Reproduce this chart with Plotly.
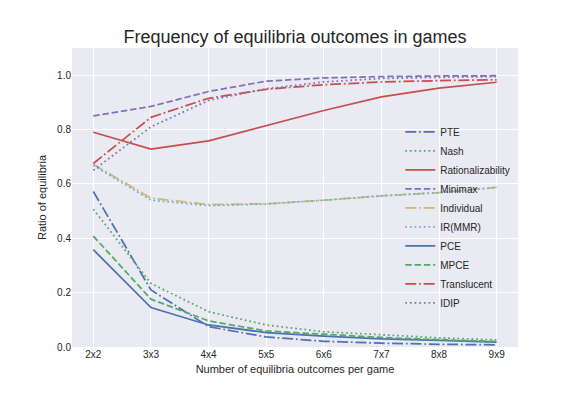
import plotly.graph_objects as go

categories = ["2x2", "3x3", "4x4", "5x5", "6x6", "7x7", "8x8", "9x9"]

pte = [0.572, 0.210, 0.075, 0.037, 0.021, 0.014, 0.010, 0.008]
nash = [0.507, 0.234, 0.130, 0.081, 0.056, 0.044, 0.034, 0.026]
rationalizability = [0.790, 0.728, 0.758, 0.815, 0.870, 0.920, 0.952, 0.974]
minimax = [0.850, 0.885, 0.940, 0.978, 0.990, 0.995, 0.997, 0.998]
individual = [0.672, 0.548, 0.524, 0.527, 0.540, 0.556, 0.568, 0.587]
ir_mmr = [0.668, 0.540, 0.520, 0.526, 0.540, 0.556, 0.568, 0.587]
pce = [0.358, 0.145, 0.081, 0.053, 0.040, 0.030, 0.024, 0.018]
mpce = [0.408, 0.176, 0.096, 0.059, 0.047, 0.035, 0.027, 0.020]
translucent = [0.675, 0.845, 0.915, 0.948, 0.965, 0.975, 0.980, 0.983]
idip = [0.650, 0.810, 0.907, 0.950, 0.975, 0.988, 0.992, 0.995]

DASHDOT = "11px,2.8px,1.75px,2.8px"
DOT = "1.75px,2.9px"
DASH = "6.5px,2.8px"

series = [
    ("PTE", pte, "#4C72B0", DASHDOT),
    ("Nash", nash, "#55A868", DOT),
    ("Rationalizability", rationalizability, "#C44E52", "solid"),
    ("Minimax", minimax, "#8172B2", DASH),
    ("Individual", individual, "#CCB974", DASHDOT),
    ("IR(MMR)", ir_mmr, "#64B5CD", DOT),
    ("PCE", pce, "#4C72B0", "solid"),
    ("MPCE", mpce, "#55A868", DASH),
    ("Translucent", translucent, "#C44E52", DASHDOT),
    ("IDIP", idip, "#8172B2", DOT),
]

fig = go.Figure()
for name, vals, color, dash in series:
    fig.add_trace(go.Scatter(
        x=list(range(len(categories))), y=vals, name=name, mode="lines",
        line=dict(color=color, dash=dash, width=1.75),
    ))

# page has an 8px body margin; figure is sized to fill the rest of the window
W, H = 560, 380
font_family = "Liberation Sans, Arial, sans-serif"
fig.update_layout(
    width=W, height=H,
    margin=dict(l=64, r=50, t=40, b=41),
    paper_bgcolor="white",
    plot_bgcolor="#EAEAF2",
    font=dict(family=font_family, color="#262626", size=10),
    title=dict(text="Frequency of equilibria outcomes in games", x=0.5, xref="paper",
               xanchor="center", y=1 - 29 / H, yanchor="middle",
               font=dict(size=18, color="#262626")),
    xaxis=dict(
        range=[-0.37, 7.37], tickmode="array", tickvals=list(range(len(categories))),
        ticktext=categories, showgrid=True, gridcolor="white", gridwidth=1,
        zeroline=False, showline=False, ticks="", tickfont=dict(size=10, color="#262626"),
        title=dict(text="Number of equilibria outcomes per game", font=dict(size=11), standoff=6),
    ),
    yaxis=dict(
        range=[0, 1.1], tickmode="array", tickvals=[0, 0.2, 0.4, 0.6, 0.8, 1.0],
        ticktext=["0.0", "0.2", "0.4", "0.6", "0.8", "1.0"],
        showgrid=True, gridcolor="white", gridwidth=1, zeroline=False, showline=False,
        ticks="", tickfont=dict(size=10, color="#262626"),
        title=dict(text="Ratio of equilibria", font=dict(size=11), standoff=8),
    ),
    legend=dict(
        x=0.736, y=0.768, xanchor="left", yanchor="top", bgcolor="rgba(0,0,0,0)",
        font=dict(size=10, color="#262626"), tracegroupgap=0, itemwidth=30,
    ),
    showlegend=True,
)

fig.write_html("out.html")
